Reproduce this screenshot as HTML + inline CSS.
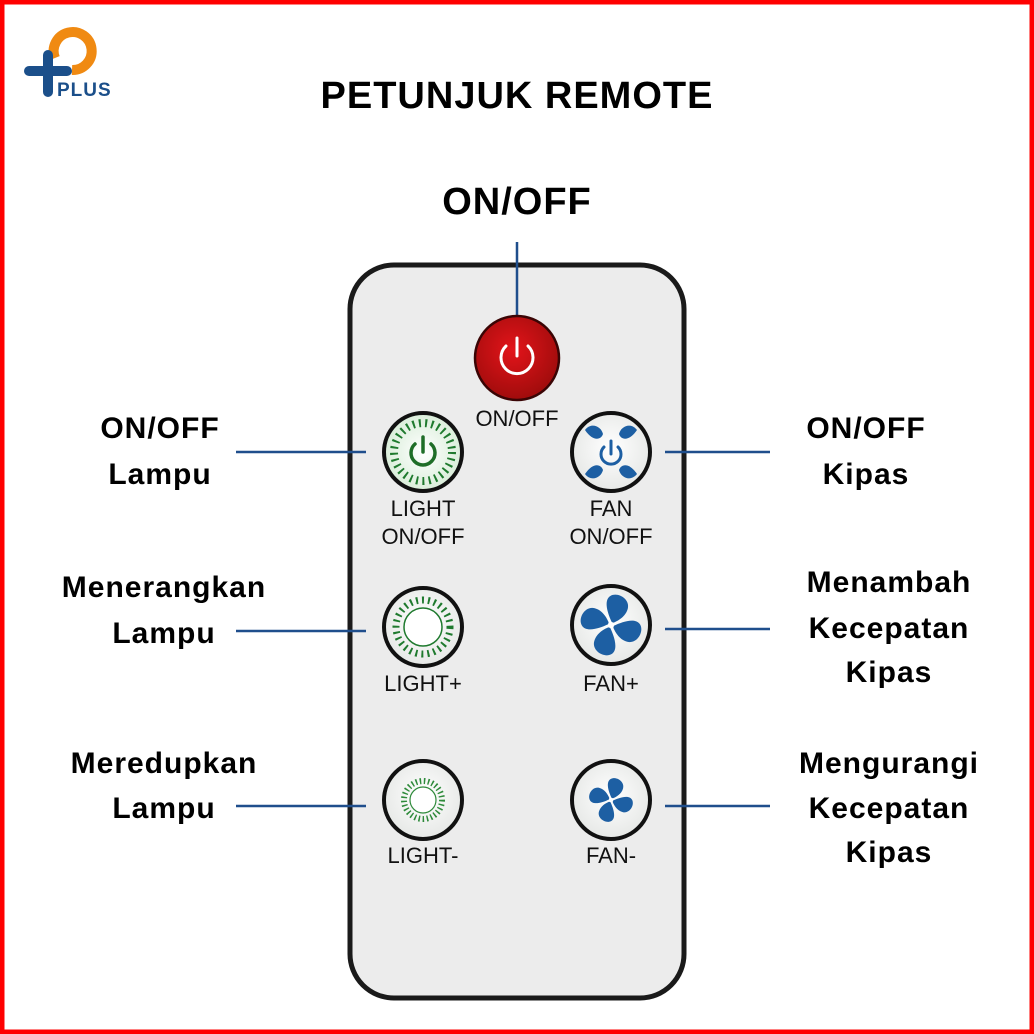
<!DOCTYPE html>
<html><head><meta charset="utf-8"><style>
html,body{margin:0;padding:0;background:#fff}
svg{display:block}
text{font-family:"Liberation Sans",sans-serif}
</style></head><body>
<svg width="1034" height="1034" viewBox="0 0 1034 1034" xmlns="http://www.w3.org/2000/svg">
<defs>
<radialGradient id="rg" cx="0.45" cy="0.4" r="0.6"><stop offset="0" stop-color="#e3141a"/><stop offset="1" stop-color="#a00c0c"/></radialGradient>
<radialGradient id="wg" cx="0.5" cy="0.45" r="0.6"><stop offset="0" stop-color="#ffffff"/><stop offset="1" stop-color="#e4e6e4"/></radialGradient>
<radialGradient id="gg" cx="0.5" cy="0.5" r="0.55"><stop offset="0" stop-color="#ffffff"/><stop offset="1" stop-color="#d6ecd6"/></radialGradient>
<path id="blade" d="M0,-3 C-6,-10 -14,-22 -8,-28 C-2,-34 12,-30 12,-20 C12,-12 6,-6 2,-3 Z" fill="#1d5fa3"/>
<g id="fan"><use href="#blade"/><use href="#blade" transform="rotate(90)"/><use href="#blade" transform="rotate(180)"/><use href="#blade" transform="rotate(270)"/><circle r="3" fill="#fff"/></g>
</defs>
<rect x="2" y="2" width="1030" height="1030" fill="#fff" stroke="#ff0000" stroke-width="5"/>
<!-- logo -->
<path d="M55,58 A19,19 0 1 1 72,70" fill="none" stroke="#f08a12" stroke-width="10"/>
<rect x="24" y="66" width="48" height="10" rx="5" fill="#1b4f8a"/>
<rect x="43" y="50" width="10" height="47" rx="5" fill="#1b4f8a"/>
<text x="57" y="96" font-family="Liberation Serif,serif" font-weight="bold" font-size="19" letter-spacing="1" fill="#1b4f8a">PLUS</text>
<!-- titles -->
<text x="517" y="108" text-anchor="middle" font-size="38" font-weight="bold" letter-spacing="1" fill="#000">PETUNJUK REMOTE</text>
<text x="517" y="214" text-anchor="middle" font-size="38" font-weight="bold" letter-spacing="1" fill="#000">ON/OFF</text>
<!-- remote -->
<rect x="350" y="265" width="334" height="733" rx="44" fill="#ececec" stroke="#1a1a1a" stroke-width="5"/>
<!-- lines -->
<g stroke="#1f4e8c" stroke-width="2.5">
<line x1="517" y1="242" x2="517" y2="318"/>
<line x1="236" y1="452" x2="366" y2="452"/>
<line x1="236" y1="631" x2="366" y2="631"/>
<line x1="236" y1="806" x2="366" y2="806"/>
<line x1="665" y1="452" x2="770" y2="452"/>
<line x1="665" y1="629" x2="770" y2="629"/>
<line x1="665" y1="806" x2="770" y2="806"/>
</g>
<!-- red button -->
<circle cx="517" cy="358" r="42" fill="url(#rg)" stroke="#3a0505" stroke-width="2.5"/>
<path d="M506,346 A16,16 0 1 0 528,346" fill="none" stroke="#fff" stroke-width="3" stroke-linecap="round"/>
<line x1="517" y1="338" x2="517" y2="356" stroke="#fff" stroke-width="3" stroke-linecap="round"/>
<!-- light buttons -->
<circle cx="423" cy="452" r="39" fill="url(#gg)" stroke="#111" stroke-width="4"/>
<circle cx="423" cy="452" r="29" fill="none" stroke="#1f7a2e" stroke-width="8" stroke-dasharray="2 4.3"/>
<path d="M415,444 A12,12 0 1 0 431,444" fill="none" stroke="#1f6e28" stroke-width="3.5" stroke-linecap="round"/>
<line x1="423" y1="437" x2="423" y2="452" stroke="#1f6e28" stroke-width="3.5" stroke-linecap="round"/>
<circle cx="423" cy="627" r="39" fill="url(#wg)" stroke="#111" stroke-width="4"/>
<circle cx="423" cy="627" r="27" fill="none" stroke="#1f7a2e" stroke-width="7" stroke-dasharray="2 4"/>
<circle cx="423" cy="627" r="19" fill="#fff" stroke="#1f7a2e" stroke-width="1.5"/>
<circle cx="423" cy="800" r="39" fill="url(#wg)" stroke="#111" stroke-width="4"/>
<circle cx="423" cy="800" r="19" fill="none" stroke="#2e8a3a" stroke-width="6" stroke-dasharray="1.5 2.6"/>
<circle cx="423" cy="800" r="13" fill="#fff" stroke="#2e8a3a" stroke-width="1.2"/>
<!-- fan buttons -->
<circle cx="611" cy="452" r="39" fill="url(#wg)" stroke="#111" stroke-width="4"/>
<g transform="translate(611,452)">
<path d="M-26,-22 C-20,-30 -10,-26 -8,-18 C-10,-12 -18,-10 -26,-22Z" fill="#1d5fa3"/>
<path d="M26,-22 C20,-30 10,-26 8,-18 C10,-12 18,-10 26,-22Z" fill="#1d5fa3"/>
<path d="M-26,22 C-20,30 -10,26 -8,18 C-10,12 -18,10 -26,22Z" fill="#1d5fa3"/>
<path d="M26,22 C20,30 10,26 8,18 C10,12 18,10 26,22Z" fill="#1d5fa3"/>
<path d="M-7,-5 A10,10 0 1 0 7,-5" fill="none" stroke="#1d5fa3" stroke-width="3" stroke-linecap="round"/>
<line x1="0" y1="-11" x2="0" y2="2" stroke="#1d5fa3" stroke-width="3" stroke-linecap="round"/>
</g>
<circle cx="611" cy="625" r="39" fill="url(#wg)" stroke="#111" stroke-width="4"/>
<use href="#fan" transform="translate(611,625) rotate(15)"/>
<circle cx="611" cy="800" r="39" fill="url(#wg)" stroke="#111" stroke-width="4"/>
<use href="#fan" transform="translate(611,800) rotate(15) scale(0.72)"/>
<!-- remote labels -->
<g font-size="22" fill="#111" text-anchor="middle">
<text x="517" y="426">ON/OFF</text>
<text x="423" y="516">LIGHT</text>
<text x="423" y="544">ON/OFF</text>
<text x="611" y="516">FAN</text>
<text x="611" y="544">ON/OFF</text>
<text x="423" y="691">LIGHT+</text>
<text x="611" y="691">FAN+</text>
<text x="423" y="863">LIGHT-</text>
<text x="611" y="863">FAN-</text>
</g>
<!-- side labels -->
<g font-size="30" font-weight="bold" fill="#000" text-anchor="middle" letter-spacing="1">
<text x="160" y="438">ON/OFF</text>
<text x="160" y="484">Lampu</text>
<text x="164" y="597">Menerangkan</text>
<text x="164" y="643">Lampu</text>
<text x="164" y="773">Meredupkan</text>
<text x="164" y="818">Lampu</text>
<text x="866" y="438">ON/OFF</text>
<text x="866" y="484">Kipas</text>
<text x="889" y="592">Menambah</text>
<text x="889" y="638">Kecepatan</text>
<text x="889" y="682">Kipas</text>
<text x="889" y="773">Mengurangi</text>
<text x="889" y="818">Kecepatan</text>
<text x="889" y="862">Kipas</text>
</g>
</svg>
</body></html>
